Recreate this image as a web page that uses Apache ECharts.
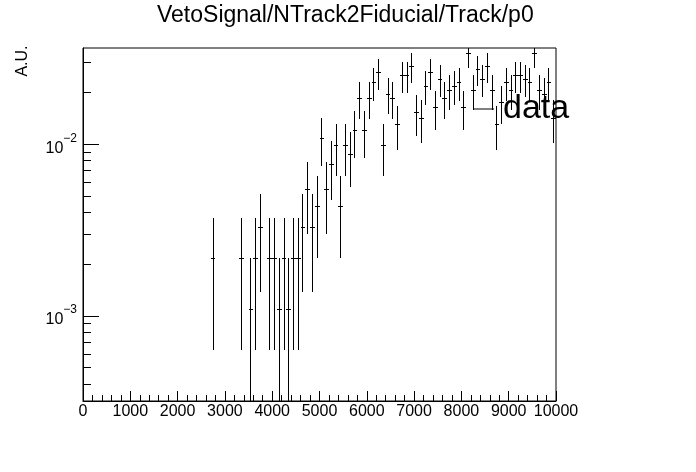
<!DOCTYPE html>
<html><head><meta charset="utf-8">
<script src="https://cdn.jsdelivr.net/npm/echarts@6/dist/echarts.min.js"></script>
<style>html,body{margin:0;padding:0;background:#fff}#c{width:696px;height:472px}</style>
</head><body><div id="c"></div>
<script>
// Bin centres (x), bin contents (A.U.) and their errors
const binCenters = [2750, 3350, 3550, 3650, 3750, 3950, 4050, 4150, 4250, 4350,
  4450, 4550, 4650, 4750, 4850, 4950, 5050, 5150, 5250, 5350,
  5450, 5550, 5650, 5750, 5850, 5950, 6050, 6150, 6250, 6350,
  6450, 6550, 6650, 6750, 6850, 6950, 7050, 7150, 7250, 7350,
  7450, 7550, 7650, 7750, 7850, 7950, 8050, 8150, 8250, 8350,
  8450, 8550, 8650, 8750, 8850, 8950, 9050, 9150, 9250, 9350,
  9450, 9550, 9650, 9750, 9850, 9950];
const binValues = [0.002176, 0.002176, 0.001088, 0.002176, 0.003264, 0.002176, 0.002176, 0.001088, 0.002176, 0.001088,
  0.002176, 0.002176, 0.003264, 0.005441, 0.003264, 0.004353, 0.010881, 0.005441, 0.007617, 0.009793,
  0.004353, 0.009793, 0.008705, 0.011970, 0.018498, 0.011970, 0.018498, 0.022851, 0.026115, 0.009793,
  0.019587, 0.018498, 0.013058, 0.025027, 0.025027, 0.028292, 0.015234, 0.014146, 0.021763, 0.026115,
  0.016322, 0.023939, 0.018498, 0.020675, 0.021763, 0.022851, 0.016322, 0.033732, 0.020675, 0.027203,
  0.023939, 0.028292, 0.020675, 0.013058, 0.017410, 0.022851, 0.020675, 0.025027, 0.025027, 0.023939,
  0.022851, 0.033732, 0.020675, 0.019587, 0.022851, 0.014146];
const binErrors = [0.001539, 0.001539, 0.001088, 0.001539, 0.001885, 0.001539, 0.001539, 0.001088, 0.001539, 0.001088,
  0.001539, 0.001539, 0.001885, 0.002433, 0.001885, 0.002176, 0.003441, 0.002433, 0.002879, 0.003264,
  0.002176, 0.003264, 0.003078, 0.003609, 0.004486, 0.003609, 0.004486, 0.004986, 0.005331, 0.003264,
  0.004616, 0.004486, 0.003769, 0.005218, 0.005218, 0.005548, 0.004071, 0.003923, 0.004866, 0.005331,
  0.004214, 0.005104, 0.004486, 0.004743, 0.004866, 0.004986, 0.004214, 0.006058, 0.004743, 0.005441,
  0.005104, 0.005548, 0.004743, 0.003769, 0.004353, 0.004986, 0.004743, 0.005218, 0.005218, 0.005104,
  0.004986, 0.006058, 0.004743, 0.004616, 0.004986, 0.003923];
const binWidth = 100;
const yMinorTicks = [4e-4, 5e-4, 6e-4, 7e-4, 8e-4, 9e-4,
  2e-3, 3e-3, 4e-3, 5e-3, 6e-3, 7e-3, 8e-3, 9e-3, 2e-2, 3e-2];
const titleText = 'VetoSignal/NTrack2Fiducial/Track/p0';
const yTitle = 'A.U.';
const legendName = 'data';

const yMin = 3.2e-4, yMax = 0.0364;
const FONT = '"Liberation Sans", Arial, Helvetica, sans-serif';

const chart = echarts.init(document.getElementById('c'), null, {renderer: 'canvas'});

function crisp(v) { return Math.round(v - 0.5) + 0.5; }

const option = {
  animation: false,
  backgroundColor: '#ffffff',
  textStyle: {fontFamily: FONT},
  title: {
    text: titleText, left: 157, top: 4, padding: 0,
    textStyle: {fontFamily: FONT, fontSize: 23, fontWeight: 'normal', color: '#000'}
  },
  legend: {
    data: [{name: legendName, icon: 'rect'}],
    left: 474, top: 92, padding: 0,
    itemWidth: 20, itemHeight: 1,
    itemStyle: {color: '#000'},
    textStyle: {fontFamily: FONT, fontSize: 34, color: '#000', padding: [0, 0, 0, 4]}
  },
  grid: {
    left: 83, right: 140, top: 48, bottom: 71,
    show: true, borderColor: '#000', borderWidth: 1, backgroundColor: 'transparent'
  },
  xAxis: {
    type: 'value', min: 0, max: 10000, interval: 1000,
    axisLine: {show: true, onZero: false, lineStyle: {color: '#000', width: 1}},
    axisTick: {show: true, inside: true, length: 10, lineStyle: {color: '#000', width: 1}},
    minorTick: {show: true, splitNumber: 5, length: 6, lineStyle: {color: '#000', width: 1}},
    splitLine: {show: false},
    axisLabel: {margin: 3, fontSize: 16, color: '#000', fontFamily: FONT,
      formatter: function (v) { return String(Math.round(v)); }}
  },
  yAxis: {
    type: 'log', logBase: 10, min: yMin, max: yMax,
    axisLine: {show: true, lineStyle: {color: '#000', width: 1}},
    axisTick: {show: true, inside: true, length: 16, lineStyle: {color: '#000', width: 1}},
    splitLine: {show: false},
    axisLabel: {
      margin: 6, color: '#000', fontFamily: FONT,
      showMinLabel: false, showMaxLabel: false,
      formatter: function (v) {
        const l = Math.log10(v);
        const e = Math.round(l);
        if (Math.abs(l - e) > 1e-6) return '';
        return '{b|10}{s|' + (e < 0 ? '\u2212' : '') + Math.abs(e) + '}';
      },
      rich: {
        b: {fontSize: 16, lineHeight: 24, verticalAlign: 'bottom', color: '#000', fontFamily: FONT},
        s: {fontSize: 12, lineHeight: 20, verticalAlign: 'top', color: '#000', fontFamily: FONT}
      }
    }
  },
  graphic: [{
    type: 'text', x: 23, y: 61, rotation: Math.PI / 2,
    style: {text: yTitle, font: '16px ' + FONT, fill: '#000', align: 'center', verticalAlign: 'middle'}
  }],
  series: [
    {
      name: legendName,
      type: 'custom',
      clip: true,
      itemStyle: {color: '#000'},
      data: binCenters.map((x, i) => [x, binValues[i], binErrors[i]]),
      renderItem: function (params, api) {
        const x = api.value(0), y = api.value(1), e = api.value(2);
        const lo = Math.max(y - e, yMin), hi = Math.min(y + e, yMax);
        const pc = api.coord([x, y]);
        const pl = api.coord([x - binWidth / 2, y]);
        const pr = api.coord([x + binWidth / 2, y]);
        const pLo = api.coord([x, lo]);
        const pHi = api.coord([x, hi]);
        const cx = crisp(pc[0]), cy = crisp(pc[1]);
        return {
          type: 'group',
          children: [
            {type: 'line', shape: {x1: Math.round(pl[0]), y1: cy, x2: Math.round(pr[0]), y2: cy},
             style: {stroke: '#000', lineWidth: 1}},
            {type: 'line', shape: {x1: cx, y1: Math.round(pLo[1]), x2: cx, y2: Math.round(pHi[1])},
             style: {stroke: '#000', lineWidth: 1}}
          ]
        };
      }
    },
    {
      name: 'yMinorTicks',
      type: 'custom',
      silent: true,
      clip: false,
      data: yMinorTicks.map(v => [0, v]),
      renderItem: function (params, api) {
        const p = api.coord([0, api.value(1)]);
        const y = crisp(p[1]);
        return {type: 'line', shape: {x1: p[0], y1: y, x2: p[0] + 8, y2: y},
                style: {stroke: '#000', lineWidth: 1}};
      }
    }
  ]
};
chart.setOption(option);
</script>
</body></html>
